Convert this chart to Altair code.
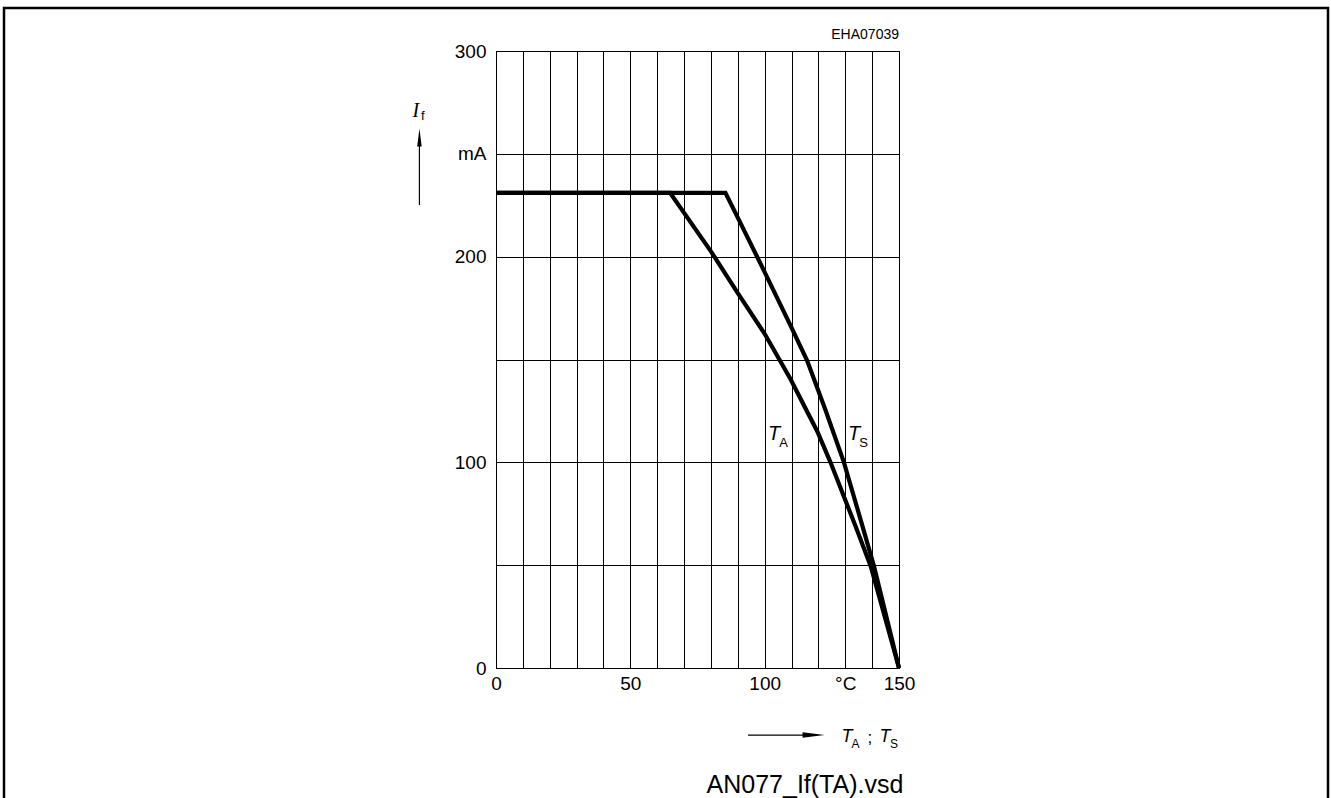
import altair as alt
import pandas as pd

# Curve data (temperature in degC, current in mA)
ta_temp = [0, 64.8, 80, 90, 100, 109.6, 119.6, 124.5, 133.8, 139.5, 150]
ta_curr = [231, 231, 202.6, 182.3, 162.5, 140.5, 115, 100, 69, 49.4, 0]
ts_temp = [0, 85.4, 90, 100, 110, 115.8, 122.6, 129.5, 136.4, 140.7, 150]
ts_curr = [231, 231, 219, 192.5, 165.5, 149.5, 125.6, 100, 69, 49.4, 0]

x_ticks = list(range(0, 151, 10))
y_ticks = list(range(0, 301, 50))

FONT = "Liberation Sans, Arial, Helvetica, sans-serif"

rows = []
for t, c in zip(ta_temp, ta_curr):
    rows.append({"series": "TA", "x": t, "y": c})
for t, c in zip(ts_temp, ts_curr):
    rows.append({"series": "TS", "x": t, "y": c})
df = pd.DataFrame(rows)

xs = alt.Scale(domain=[0, 150], nice=False, zero=False)
ys = alt.Scale(domain=[0, 300], nice=False, zero=False)

x_axis = alt.Axis(values=x_ticks, grid=True, gridColor="black", gridWidth=1, gridOpacity=1,
                  ticks=False, domain=False, title=None, labelFont=FONT, labelFontSize=19,
                  labelColor="black", labelPadding=6, labelFlush=False, labelOverlap=False,
                  labelExpr="datum.value==130 ? '°C' : (datum.value % 50 == 0 ? datum.label : '')")
y_axis = alt.Axis(values=y_ticks, grid=True, gridColor="black", gridWidth=1, gridOpacity=1,
                  ticks=False, domain=False, title=None, labelFont=FONT, labelFontSize=19,
                  labelColor="black", labelPadding=10, labelFlush=False, labelOverlap=False,
                  labelExpr="datum.value==250 ? 'mA' : (datum.value % 100 == 0 ? datum.label : '')")

X = alt.X("x:Q", scale=xs, axis=x_axis)
Y = alt.Y("y:Q", scale=ys, axis=y_axis)

lines = alt.Chart(df).mark_line(strokeWidth=4.2, color="black", strokeJoin="miter", clip=False).encode(
    x=X, y=Y, detail="series:N")

# Annotation texts (data-space anchor positions)
ital = pd.DataFrame([
    {"x": 103.5, "y": 113.8, "t": "T", "s": 20},
    {"x": 133.3, "y": 113.8, "t": "T", "s": 20},
    {"x": 130.6, "y": -33.5, "t": "T", "s": 18},
    {"x": 144.8, "y": -33.5, "t": "T", "s": 18},
])
subs = pd.DataFrame([
    {"x": 107.0, "y": 109.6, "t": "A", "s": 13},
    {"x": 136.8, "y": 109.6, "t": "S", "s": 13},
    {"x": 133.8, "y": -37.0, "t": "A", "s": 12},
    {"x": 148.1, "y": -37.0, "t": "S", "s": 12},
    {"x": -27.2, "y": 268.6, "t": "f", "s": 13},
    {"x": 139.2, "y": -34.0, "t": ";", "s": 17},
])
plain = pd.DataFrame([
    {"x": 115.0, "y": -56.9, "t": "AN077_If(TA).vsd", "s": 25},
])

def text_layer(d, style="normal", family=FONT, align="center"):
    return alt.Chart(d).mark_text(fontStyle=style, font=family, color="black", align=align,
                                  baseline="middle", clip=False).encode(
        x=X, y=Y, text="t:N", size=alt.Size("s:Q", scale=None, legend=None))

t_ital = text_layer(ital, style="italic")
t_subs = text_layer(subs)
t_plain = text_layer(plain)
t_I = text_layer(pd.DataFrame([{"x": -29.8, "y": 271.0, "t": "I", "s": 20}]), style="italic",
                 family="Liberation Serif, Times New Roman, serif")
t_code = alt.Chart(pd.DataFrame([{"x": 150, "y": 304.5, "t": "EHA07039"}])).mark_text(
    font=FONT, fontSize=14, color="black", align="right", baseline="bottom", clip=False).encode(
    x=X, y=Y, text="t:N")

# Arrows
up_shaft = alt.Chart(pd.DataFrame([{"x": -28.5, "y": 225.1, "y2": 255.0}])).mark_rule(
    color="black", strokeWidth=1.2, clip=False).encode(x=X, y=Y, y2="y2:Q")
up_head = alt.Chart(pd.DataFrame([{"x": -28.5, "y": 257.9}])).mark_point(
    shape="M-0.25,1L0,-1L0.25,1Z", filled=True, color="black", opacity=1, size=324, clip=False).encode(
    x=X, y=Y)
rt_shaft = alt.Chart(pd.DataFrame([{"x": 93.8, "x2": 116.0, "y": -32.6}])).mark_rule(
    color="black", strokeWidth=1.2, clip=False).encode(x=X, x2="x2:Q", y=Y)
rt_head = alt.Chart(pd.DataFrame([{"x": 118.2, "y": -32.6}])).mark_point(
    shape="M-1,-0.25L1,0L-1,0.25Z", filled=True, color="black", opacity=1, size=484, clip=False).encode(
    x=X, y=Y)

# Page frame
frame = alt.Chart(pd.DataFrame([{"a": 1}])).mark_rect(
    fill=None, stroke="black", strokeWidth=2.5, clip=False).encode(
    x=alt.value(-492), x2=alt.value(832), y=alt.value(-43), y2=alt.value(800))

chart = alt.layer(
    lines, t_ital, t_subs, t_plain, t_I, t_code, up_shaft, up_head, rt_shaft, rt_head, frame
).properties(
    width=403, height=617,
    padding={"left": 496, "top": 51, "right": 432, "bottom": 130},
    autosize="none",
    background="white",
).configure_view(stroke="black", strokeWidth=1)

chart.save("out.html", embed_options={"renderer": "svg", "actions": False})
